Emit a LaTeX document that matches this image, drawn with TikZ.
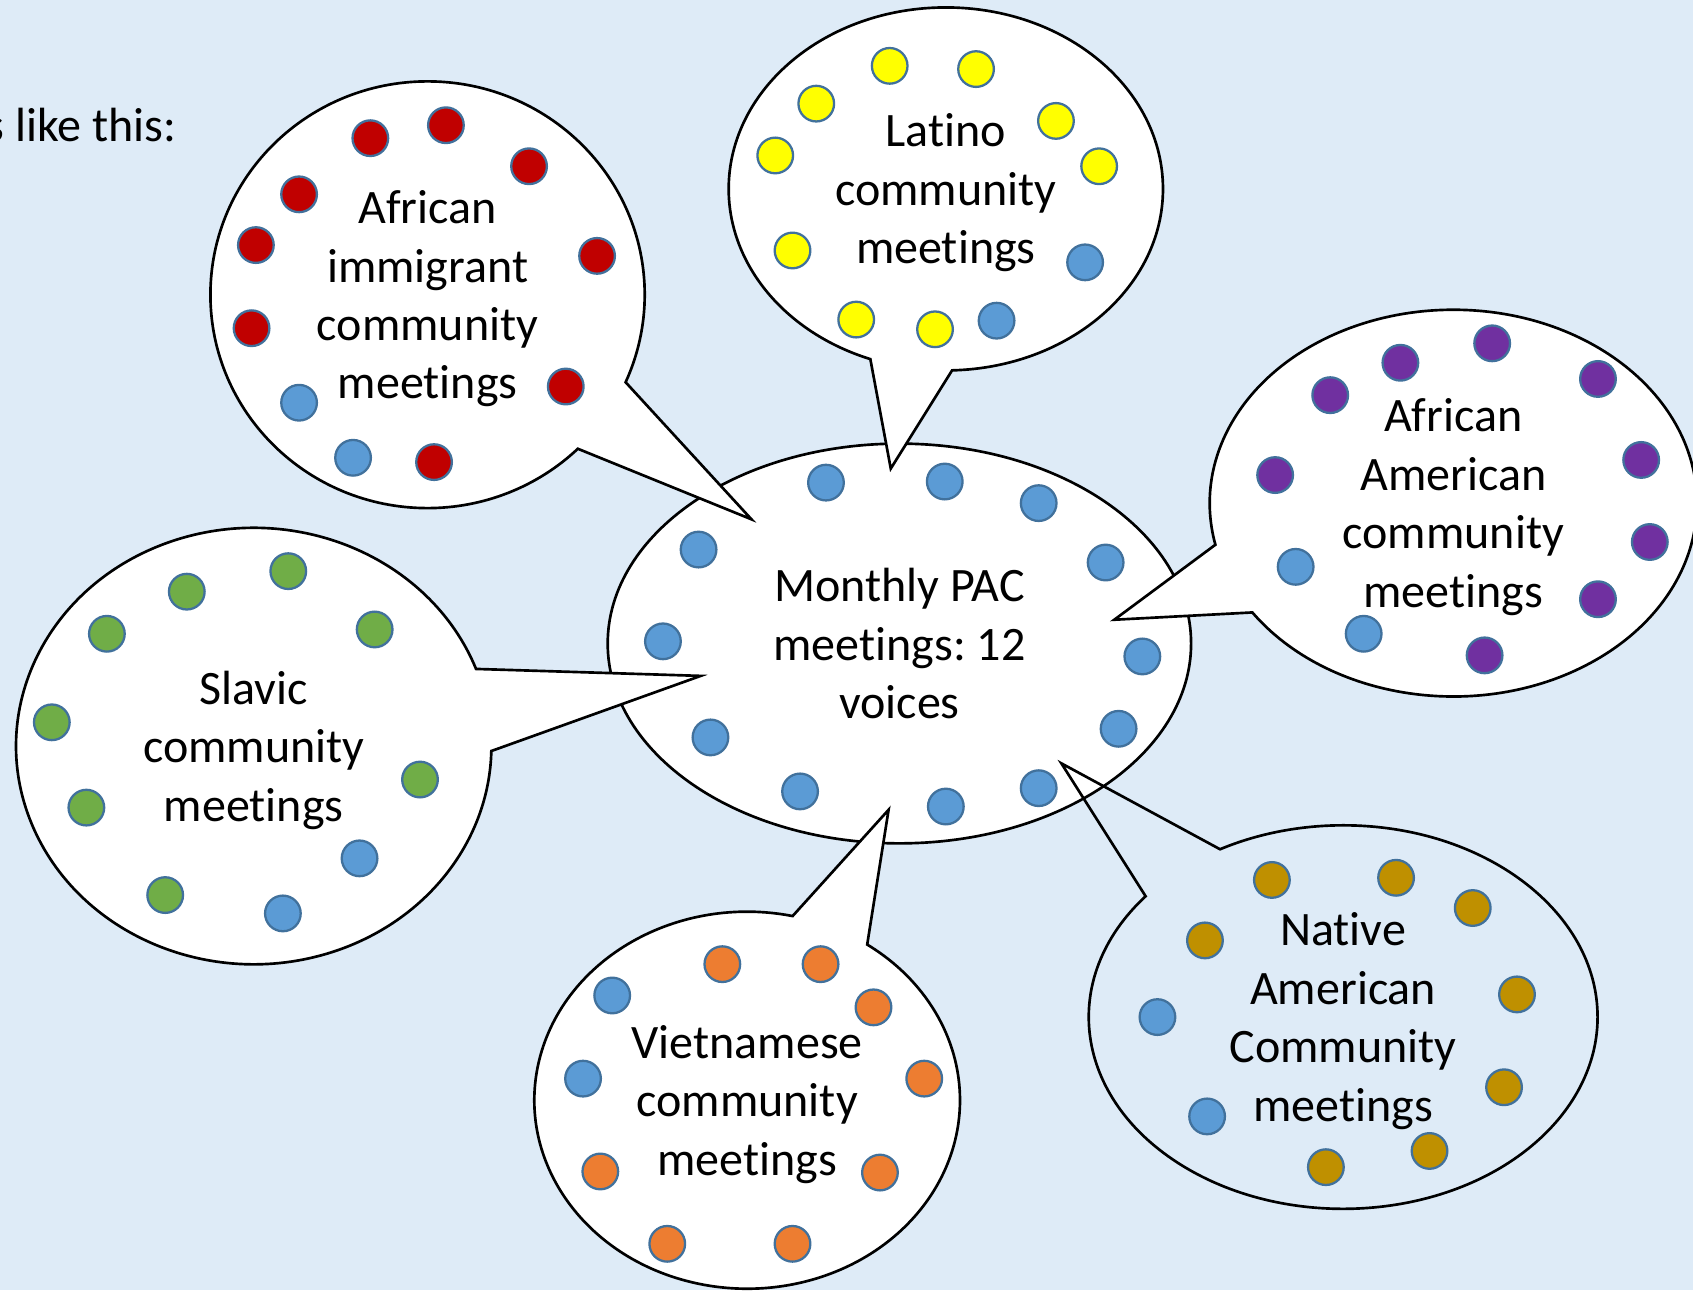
\documentclass[tikz,border=0pt]{standalone}
\usepackage{fontspec}
\setmainfont{Carlito}[Ligatures=NoCommon,RawFeature={-liga;-calt}]
\usetikzlibrary{shapes.geometric,shapes.callouts}
\frenchspacing

\definecolor{slidebg}{RGB}{222,235,247}
\definecolor{pacblue}{RGB}{91,155,213}
\definecolor{dotedge}{RGB}{65,113,156}
\definecolor{afred}{RGB}{192,0,0}
\definecolor{latyellow}{RGB}{255,255,0}
\definecolor{aapurple}{RGB}{112,48,160}
\definecolor{slgreen}{RGB}{112,173,71}
\definecolor{vnorange}{RGB}{237,125,49}
\definecolor{nagold}{RGB}{191,144,0}

\begin{document}
\begin{tikzpicture}[x=0.01cm,y=-0.01cm,
  font=\fontsize{12.65}{15.4}\selectfont,
  voice/.style={circle,draw=dotedge,line width=0.6pt,fill=#1,minimum size=0.33cm,inner sep=0pt},
  bubble/.style={ellipse callout,draw=black,line width=0.7pt,fill=white,align=center,inner sep=0pt,
    text depth=0pt,callout pointer arc=22}]
% Slide
\fill[slidebg,use as bounding box] (0,0) rectangle (1568,1195);
\node[anchor=base east,inner sep=0pt] (intro) at (164,131) {s like this:};

% Monthly PAC
\node[ellipse,draw,line width=0.7pt,fill=white,align=center,inner sep=0pt,
  minimum width=5.40cm,minimum height=3.70cm] (pac) at (833,596) {Monthly PAC\\meetings: 12\\voices};
\foreach \x/\y [count=\i] in {765/447,875/446,962/466,647/509,1024/521,614/594,
    1058/608,658/683,1036/675,741/733,876/747,962/730}
  \node[voice=pacblue] (pac-\i) at (\x,\y) {};

% African immigrant
\node[bubble,minimum width=4.02cm,minimum height=3.95cm,callout absolute pointer={(696,481)}]
  (immigrant) at (396,273) {African\\immigrant\\community\\meetings};
\foreach \x/\y/\c [count=\i] in {343/128/afred,413/116/afred,490/154/afred,277/180/afred,
    237/227/afred,553/237/afred,233/304/afred,524/358/afred,402/428/afred,277/373/pacblue,327/424/pacblue}
  \node[voice=\c] (immigrant-\i) at (\x,\y) {};

% Latino
\node[bubble,minimum width=4.02cm,minimum height=3.36cm,callout absolute pointer={(825,434)}]
  (latino) at (876,175) {Latino\\community\\meetings};
\foreach \x/\y/\c [count=\i] in {824/61/latyellow,904/64/latyellow,756/96/latyellow,978/112/latyellow,
    718/144/latyellow,1018/154/latyellow,734/232/latyellow,793/296/latyellow,866/305/latyellow,
    1005/243/pacblue,923/297/pacblue}
  \node[voice=\c] (latino-\i) at (\x,\y) {};

% African American
\node[bubble,minimum width=4.51cm,minimum height=3.58cm,callout absolute pointer={(1032,574)}]
  (afram) at (1346,466) {African\\American\\community\\meetings};
\foreach \x/\y/\c [count=\i] in {1382/318/aapurple,1297/336/aapurple,1480/351/aapurple,1232/366/aapurple,
    1520/426/aapurple,1181/440/aapurple,1528/502/aapurple,1480/555/aapurple,1375/607/aapurple,
    1200/525/pacblue,1263/587/pacblue}
  \node[voice=\c] (afram-\i) at (\x,\y) {};

% Slavic
\node[bubble,minimum width=4.40cm,minimum height=4.04cm,callout absolute pointer={(649,626)}]
  (slavic) at (235,691) {Slavic\\community\\meetings};
\foreach \x/\y/\c [count=\i] in {267/529/slgreen,173/548/slgreen,99/587/slgreen,347/583/slgreen,
    48/669/slgreen,389/722/slgreen,80/748/slgreen,153/829/slgreen,333/795/pacblue,262/846/pacblue}
  \node[voice=\c] (slavic-\i) at (\x,\y) {};

% Vietnamese
\node[bubble,minimum width=3.94cm,minimum height=3.49cm,callout absolute pointer={(823,750)}]
  (viet) at (692,1019) {Vietnamese\\community\\meetings};
\foreach \x/\y/\c [count=\i] in {669/893/vnorange,760/893/vnorange,809/933/vnorange,856/999/vnorange,
    556/1085/vnorange,815/1086/vnorange,618/1152/vnorange,734/1152/vnorange,567/922/pacblue,540/999/pacblue}
  \node[voice=\c] (viet-\i) at (\x,\y) {};

% Native American (no fill)
\node[bubble,fill=none,minimum width=4.71cm,minimum height=3.55cm,callout absolute pointer={(983,707)}]
  (native) at (1244,942) {Native\\American\\Community\\meetings};
\foreach \x/\y/\c [count=\i] in {1178/815/nagold,1293/813/nagold,1364/841/nagold,1116/871/nagold,
    1405/921/nagold,1393/1007/nagold,1324/1066/nagold,1228/1081/nagold,1072/942/pacblue,1118/1034/pacblue}
  \node[voice=\c] (native-\i) at (\x,\y) {};
\end{tikzpicture}
\end{document}
